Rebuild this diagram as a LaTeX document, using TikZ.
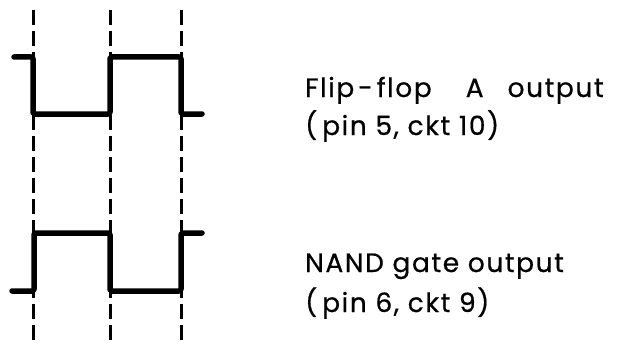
\documentclass[tikz,border=0pt]{standalone}
\usepackage{fontspec}
\setmainfont{Poppins}[LetterSpace=6,FakeBold=0.6]
\begin{document}
\begin{tikzpicture}[x=1pt,y=-1pt,
  wave/.style={line width=5.5pt, line join=round, line cap=round, rounded corners=2pt},
  guide/.style={line width=3pt, dash pattern=on 15pt off 6pt},
  lbl/.style={anchor=base west, inner sep=0pt, font=\fontsize{26.5}{30}\selectfont}]
\useasboundingbox (0,0) rectangle (629,345);
\foreach \x in {33,110,181} \draw[guide] (\x,10) -- (\x,345);
\draw[wave] (14,57) -- (33,57) -- (33,114) -- (110,114) -- (110,57) -- (181,57) -- (181,114) -- (202,114);
\draw[wave] (12,291) -- (34,291) -- (34,233) -- (110,233) -- (110,291) -- (181,291) -- (181,233) -- (202,233);
\node[lbl] (t1) at (305,97) {Flip\hspace{4pt}-\hspace{4pt}flop\hspace{34pt}A\hspace{24pt}output};
\node[lbl] (t2) at (305,135) {(\hspace{5pt}pin 5, ckt 10)};
\node[lbl] (t3) at (305,272) {NAND gate output};
\node[lbl] (t4) at (305,312) {(\hspace{5pt}pin 6, ckt 9)};
\end{tikzpicture}
\end{document}
